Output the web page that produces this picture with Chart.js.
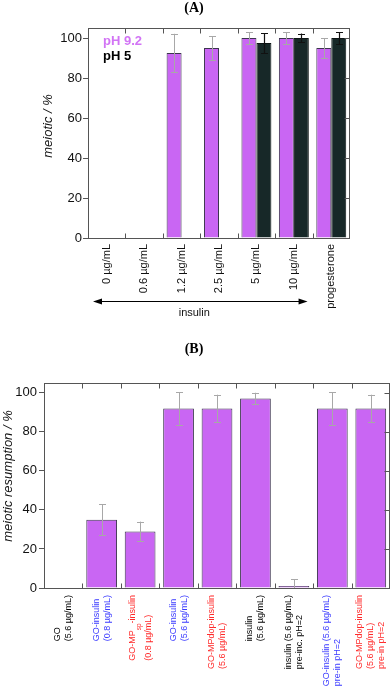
<!DOCTYPE html>
<html><head><meta charset="utf-8">
<script src="https://cdn.jsdelivr.net/npm/chart.js@4.4.0/dist/chart.umd.min.js"></script>
<style>
html,body{margin:0;padding:0;background:#fff;width:392px;height:687px;overflow:hidden}
#wa{position:absolute;left:0;top:0;width:392px;height:340px}
#wb{position:absolute;left:0;top:340px;width:392px;height:347px}
</style></head><body>
<div id="wa"><canvas id="ca"></canvas></div>
<div id="wb"><canvas id="cb"></canvas></div>
<script>
// ---------- data ----------
const categoriesA = ['0 µg/mL','0.6 µg/mL','1.2 µg/mL','2.5 µg/mL','5 µg/mL','10 µg/mL','progesterone'];
const ph92Values = [0, 0, 92.5, 95, 100, 100, 95];
const ph92Errors = [0, 0, 9.6, 6, 3, 3, 5];
const ph5Values  = [null, null, null, null, 97.5, 100, 100];
const ph5Errors  = [null, null, null, null, 5, 2.2, 3];
const seriesNamesA = ['pH 9.2', 'pH 5'];
const groupLabelA = 'insulin';

const categoriesB = [
  ['GO', '(5.6 µg/mL)'],
  ['GO-insulin', '(0.8 µg/mL)'],
  ['GO-MP_{sp}-insulin', '(0.8 µg/mL)'],
  ['GO-insulin', '(5.6 µg/mL)'],
  ['GO-MPdop-insulin', '(5.6 µg/mL)'],
  ['insulin', '(5.6 µg/mL)'],
  ['insulin (5.6 µg/mL)', 'pre-inc. pH=2'],
  ['GO-insulin (5.6 µg/mL)', 'pre-in pH=2'],
  ['GO-MPdop-insulin', '(5.6 µg/mL)', 'pre-in pH=2']
];
const labelColorsB = ['#000', '#3a3aff', '#ff2a2a', '#3a3aff', '#ff2a2a', '#000', '#000', '#3a3aff', '#ff2a2a'];
const resumptionValues = [0, 35, 29, 92, 92, 97, 1, 92, 92];
const resumptionErrors = [0, 8, 5, 8.3, 7, 3, 3.5, 8.3, 7];
const yTickStep = 20;

// ---------- helpers ----------
const SANS = '"Liberation Sans", Arial, sans-serif';
const SERIF = '"Liberation Serif", "Times New Roman", serif';
const PURPLE = '#c966f3';
const DARK = '#172828';
const AXIS = '#555';

function crisp(v) { return Math.round(v) + 0.5; }

function drawErrors(chart, dsIndex, errs, color, lw) {
  const meta = chart.getDatasetMeta(dsIndex);
  const ys = chart.scales.y;
  const ctx = chart.ctx;
  const vals = chart.data.datasets[dsIndex].data;
  ctx.save();
  ctx.strokeStyle = color; ctx.lineWidth = lw;
  meta.data.forEach((bar, i) => {
    const v = vals[i], e = errs[i];
    if (v == null || !e) return;
    const x = crisp(bar.x);
    const yt = ys.getPixelForValue(v + e);
    const yb = ys.getPixelForValue(Math.max(0, v - e));
    ctx.beginPath();
    ctx.moveTo(x, yt); ctx.lineTo(x, yb);
    ctx.moveTo(x - 3.5, crisp(yt)); ctx.lineTo(x + 3.5, crisp(yt));
    if (v - e > 0) { ctx.moveTo(x - 3.5, crisp(yb)); ctx.lineTo(x + 3.5, crisp(yb)); }
    ctx.stroke();
  });
  ctx.restore();
}

function drawFrame(chart, n) {
  const {ctx, chartArea: a, scales: {x, y}} = chart;
  ctx.save();
  ctx.strokeStyle = AXIS; ctx.lineWidth = 1;
  const L = crisp(a.left), R = crisp(a.right - 1), T = crisp(a.top), B = crisp(a.bottom);
  ctx.strokeRect(L, T, R - L, B - T);
  ctx.beginPath();
  for (let i = 1; i < n; i++) {
    const bx = crisp((x.getPixelForValue(i - 1) + x.getPixelForValue(i)) / 2);
    ctx.moveTo(bx, T); ctx.lineTo(bx, T + 5);
    ctx.moveTo(bx, B); ctx.lineTo(bx, B - 5);
  }
  for (let v = yTickStep; v <= 100; v += yTickStep) {
    const py = crisp(y.getPixelForValue(v));
    ctx.moveTo(R, py); ctx.lineTo(R - 5, py);
  }
  ctx.stroke();
  ctx.restore();
}

function drawYTitle(chart, text, cx, cy) {
  const ctx = chart.ctx;
  ctx.save();
  ctx.translate(cx, cy); ctx.rotate(-Math.PI / 2);
  ctx.font = 'italic 13px ' + SANS;
  ctx.fillStyle = '#111'; ctx.textAlign = 'center'; ctx.textBaseline = 'middle';
  ctx.fillText(text, 0, 0);
  ctx.restore();
}

function drawTitle(chart, text, cx, cy) {
  const ctx = chart.ctx;
  ctx.save();
  ctx.font = 'bold 14px ' + SERIF;
  ctx.fillStyle = '#000'; ctx.textAlign = 'center'; ctx.textBaseline = 'middle';
  ctx.fillText(text, cx, cy);
  ctx.restore();
}

// parse a label line into parts, "_{..}" marks a subscript
function parts(line) {
  const out = []; const re = /_\{(.*?)\}/g; let last = 0, m;
  while ((m = re.exec(line))) {
    if (m.index > last) out.push({t: line.slice(last, m.index), sub: false});
    out.push({t: m[1], sub: true});
    last = re.lastIndex;
  }
  if (last < line.length) out.push({t: line.slice(last), sub: false});
  return out;
}

function drawXLabels(chart, labels, colors, fs, lh, gap) {
  const ctx = chart.ctx, xs = chart.scales.x;
  const top = chart.chartArea.bottom + gap;
  const fMain = fs + 'px ' + SANS, fSub = (fs * 0.72) + 'px ' + SANS;
  labels.forEach((lab, i) => {
    const lines = Array.isArray(lab) ? lab : [lab];
    const hasSub = lines.some(l => /_\{/.test(l));
    const step = hasSub ? lh + 5 : lh;
    const widths = lines.map(l => parts(l).reduce((w, p) => {
      ctx.font = p.sub ? fSub : fMain; return w + ctx.measureText(p.t).width; }, 0));
    const maxW = Math.max(...widths);
    const cx = xs.getPixelForValue(i);
    const n = lines.length;
    ctx.save();
    ctx.translate(cx, top + maxW);
    ctx.rotate(-Math.PI / 2);
    ctx.fillStyle = colors ? colors[i] : '#111';
    ctx.textAlign = 'left'; ctx.textBaseline = 'middle';
    lines.forEach((l, j) => {
      const yOff = (j - (n - 1) / 2) * step;
      let xp = 0;
      parts(l).forEach(p => {
        ctx.font = p.sub ? fSub : fMain;
        ctx.fillText(p.t, xp, yOff + (p.sub ? 7 : 0));
        xp += ctx.measureText(p.t).width;
      });
    });
    ctx.restore();
  });
}

function yAxis(width, pad) {
  return {
    min: 0, max: 105,
    afterFit: s => { s.width = width; },
    border: {display: false},
    grid: {drawOnChartArea: false, drawTicks: true, tickLength: 5, color: AXIS},
    ticks: {stepSize: yTickStep, includeBounds: false, padding: pad,
            font: {family: SANS, size: 13}, color: '#111'}
  };
}
function xAxis(height) {
  return {
    afterFit: s => { s.height = height; },
    border: {display: false},
    grid: {display: false},
    ticks: {display: false}
  };
}

// ---------- chart A ----------
new Chart(document.getElementById('ca'), {
  type: 'bar',
  data: {
    labels: categoriesA,
    datasets: [
      {label: seriesNamesA[0], data: ph92Values, backgroundColor: PURPLE, borderColor: '#3d3550', borderWidth: 1,
       categoryPercentage: 0.8, barPercentage: 1.0},
      {label: seriesNamesA[1], data: ph5Values, backgroundColor: DARK, borderColor: '#0c1414', borderWidth: 1,
       categoryPercentage: 0.8, barPercentage: 1.0}
    ]
  },
  options: {
    responsive: true, maintainAspectRatio: false, animation: false,
    layout: {padding: {top: 28, right: 42, left: 0, bottom: 0}},
    plugins: {legend: {display: false}, tooltip: {enabled: false}, title: {display: false}},
    scales: {x: xAxis(102), y: yAxis(88, 1)}
  },
  plugins: [{
    id: 'decorA',
    afterDatasetsDraw(chart) {
      drawErrors(chart, 0, ph92Errors, '#a8a8a8', 1);
      drawErrors(chart, 1, ph5Errors, '#111', 1.2);
      drawFrame(chart, categoriesA.length);
    },
    afterDraw(chart) {
      const ctx = chart.ctx, xs = chart.scales.x, a = chart.chartArea;
      drawTitle(chart, '(A)', 194, 8);
      drawYTitle(chart, 'meiotic / %', 48, 126);
      drawXLabels(chart, categoriesA, null, 11, 12, 6);
      // legend
      ctx.save();
      ctx.font = 'bold 13px ' + SANS; ctx.textAlign = 'left'; ctx.textBaseline = 'middle';
      ctx.fillStyle = '#d274f5'; ctx.fillText(seriesNamesA[0], a.left + 15, 41);
      ctx.fillStyle = '#000'; ctx.fillText(seriesNamesA[1], a.left + 15, 56);
      // insulin arrow spanning the insulin groups
      const b0 = xs.getPixelForValue(0) - (xs.getPixelForValue(1) - xs.getPixelForValue(0)) / 2;
      const b6 = (xs.getPixelForValue(5) + xs.getPixelForValue(6)) / 2;
      const x1 = b0 + 5, x2 = b6 - 5, ay = 301.5;
      ctx.strokeStyle = '#000'; ctx.fillStyle = '#000'; ctx.lineWidth = 1;
      ctx.beginPath(); ctx.moveTo(x1 + 6, ay); ctx.lineTo(x2 - 6, ay); ctx.stroke();
      ctx.beginPath(); ctx.moveTo(x1, ay); ctx.lineTo(x1 + 9, ay - 3); ctx.lineTo(x1 + 9, ay + 3); ctx.closePath(); ctx.fill();
      ctx.beginPath(); ctx.moveTo(x2, ay); ctx.lineTo(x2 - 9, ay - 3); ctx.lineTo(x2 - 9, ay + 3); ctx.closePath(); ctx.fill();
      ctx.font = '11px ' + SANS; ctx.textAlign = 'center'; ctx.fillStyle = '#111';
      ctx.fillText(groupLabelA, (x1 + x2) / 2 - 6, 313);
      ctx.restore();
    }
  }]
});

// ---------- chart B ----------
new Chart(document.getElementById('cb'), {
  type: 'bar',
  data: {
    labels: categoriesB.map(l => l.join(' ')),
    datasets: [
      {label: 'meiotic resumption', data: resumptionValues, backgroundColor: PURPLE, borderColor: '#3d3550', borderWidth: 1,
       categoryPercentage: 0.8, barPercentage: 1.0}
    ]
  },
  options: {
    responsive: true, maintainAspectRatio: false, animation: false,
    layout: {padding: {top: 43, right: 2, left: 0, bottom: 0}},
    plugins: {legend: {display: false}, tooltip: {enabled: false}, title: {display: false}},
    scales: {x: xAxis(99), y: yAxis(44, 2)}
  },
  plugins: [{
    id: 'decorB',
    afterDatasetsDraw(chart) {
      drawErrors(chart, 0, resumptionErrors, '#a8a8a8', 1);
      drawFrame(chart, categoriesB.length);
    },
    afterDraw(chart) {
      drawTitle(chart, '(B)', 194, 9);
      drawYTitle(chart, 'meiotic resumption / %', 8.5, 136);
      drawXLabels(chart, categoriesB, labelColorsB, 9, 11, 7);
    }
  }]
});
</script>
</body></html>
